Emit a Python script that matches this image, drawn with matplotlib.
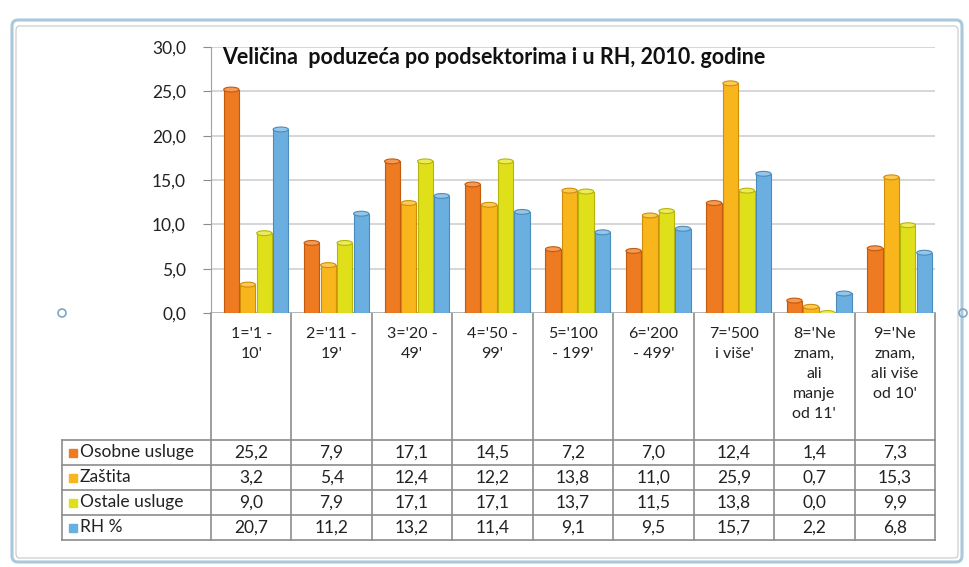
import matplotlib.pyplot as plt
from matplotlib.patches import Ellipse, Rectangle, FancyBboxPatch
from matplotlib.ticker import FuncFormatter
import numpy as np

plt.rcParams['font.family'] = ['Lato', 'DejaVu Sans']

categories = ["1='1 -\n10'", "2='11 -\n19'", "3='20 -\n49'", "4='50 -\n99'",
              "5='100\n- 199'", "6='200\n- 499'", "7='500\ni više'",
              "8='Ne\nznam,\nali\nmanje\nod 11'", "9='Ne\nznam,\nali više\nod 10'"]
series_names = ["Osobne usluge", "Zaštita", "Ostale usluge", "RH %"]
osobne = [25.2, 7.9, 17.1, 14.5, 7.2, 7.0, 12.4, 1.4, 7.3]
zastita = [3.2, 5.4, 12.4, 12.2, 13.8, 11.0, 25.9, 0.7, 15.3]
ostale = [9.0, 7.9, 17.1, 17.1, 13.7, 11.5, 13.8, 0.0, 9.9]
rh = [20.7, 11.2, 13.2, 11.4, 9.1, 9.5, 15.7, 2.2, 6.8]
yticks = [0, 5, 10, 15, 20, 25, 30]
title = "Veličina  poduzeća po podsektorima i u RH, 2010. godine"

colors = ['#EE7A22', '#F8B51C', '#E0E01A', '#6BAFE0']
edges = ['#C25A10', '#D08E08', '#B5B510', '#4A8CBC']
caps = ['#F59A55', '#FCCB55', '#ECEC5A', '#95C6EA']

W, H = 970, 567
fig = plt.figure(figsize=(W / 100, H / 100), dpi=100)

# pixel overlay for frame and table
ov = fig.add_axes([0, 0, 1, 1])
ov.set_xlim(0, W)
ov.set_ylim(H, 0)
ov.axis('off')
ov.add_patch(FancyBboxPatch((12, 20), 950, 542, boxstyle="round,pad=0,rounding_size=6",
                            fill=False, ec='#A9C8DA', lw=2.2))
ov.add_patch(FancyBboxPatch((16, 26), 942, 532, boxstyle="round,pad=0,rounding_size=4",
                            fill=False, ec='#C8C8C8', lw=0.8))
for cx, cy in [(62, 313), (963, 313)]:
    ov.add_patch(Ellipse((cx, cy), 8, 8, fill=False, ec='#7FA7C4', lw=1.2))

# main chart axes
x_left, x_right = 211, 935
y_bot, y_top = 313, 47
ax = fig.add_axes([x_left / W, 1 - y_bot / H, (x_right - x_left) / W, (y_bot - y_top) / H])
ax.set_xlim(-0.5, len(categories) - 0.5)
ax.set_ylim(0, 30)
ax.set_yticks(yticks)
ax.yaxis.set_major_formatter(FuncFormatter(lambda v, p: f"{v:.1f}".replace('.', ',')))
ax.tick_params(axis='y', labelsize=12.5, length=6, color='#8C8C8C', labelcolor='#222222', pad=12)
ax.set_xticks([])
ax.grid(axis='y', color='#D0D0D0', lw=1.2)
ax.set_axisbelow(True)
for s in ['top', 'right', 'bottom']:
    ax.spines[s].set_visible(False)
ax.spines['left'].set_color('#A0A0A0')
ax.axhline(0, color='#B0B0B0', lw=1.2)

x = np.arange(len(categories))
bw = 0.19
series = [osobne, zastita, ostale, rh]
for k, vals in enumerate(series):
    xs = x + 0.06 + (k - 1.5) * (bw + 0.015)
    ax.bar(xs, vals, width=bw, color=colors[k], edgecolor=edges[k], lw=0.8, zorder=3)
    for xi, v in zip(xs, vals):
        ax.add_patch(Ellipse((xi, v), bw, 0.55, fc=caps[k], ec=edges[k], lw=0.8, zorder=4))

ax.text(0.015, 0.96, title, transform=ax.transAxes, fontsize=15.5, fontweight='bold',
        color='#111111', va='center', ha='left')

# table
colw = (x_right - x_left) / len(categories)
grid_c = '#8C8C8C'
row_top = 440
row_h = 25
n_rows = len(series)
for i in range(len(categories) + 1):
    xx = x_left + i * colw
    ov.plot([xx, xx], [y_bot, row_top + n_rows * row_h], color=grid_c, lw=1.2)
ov.plot([62, 62], [row_top, row_top + n_rows * row_h], color=grid_c, lw=1.2)
for r in range(n_rows + 1):
    yy = row_top + r * row_h
    ov.plot([62, x_right], [yy, yy], color=grid_c, lw=1.2)

for i, lab in enumerate(categories):
    ov.text(x_left + (i + 0.5) * colw, 327, lab, ha='center', va='top', fontsize=11.5,
            color='#222222', linespacing=1.55)

for r, (name, vals) in enumerate(zip(series_names, series)):
    yc = row_top + (r + 0.5) * row_h
    ov.add_patch(Rectangle((69, yc - 4), 8, 8, color=colors[r]))
    ov.text(80, yc, name, ha='left', va='center', fontsize=12.5, color='#222222')
    for i, v in enumerate(vals):
        ov.text(x_left + (i + 0.5) * colw, yc, f"{v:.1f}".replace('.', ','),
                ha='center', va='center', fontsize=12.5, color='#222222')

fig.savefig('out.png', dpi=100)
